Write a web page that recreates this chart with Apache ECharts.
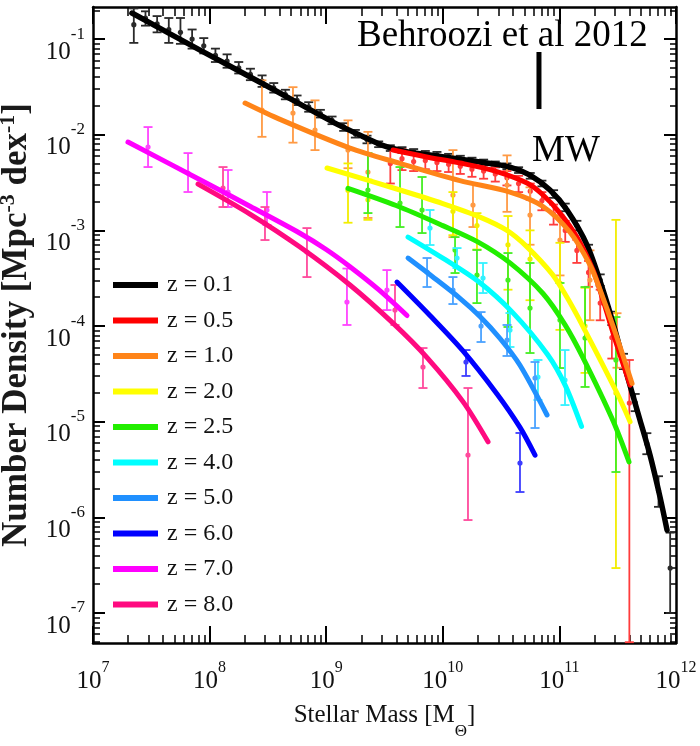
<!DOCTYPE html>
<html>
<head>
<meta charset="utf-8">
<script src="https://cdn.jsdelivr.net/npm/echarts@6/dist/echarts.min.js"></script>
<style>html,body{margin:0;padding:0;background:#fff}#chart{width:700px;height:746px}</style>
</head>
<body>
<div id="chart"></div>
<script>
// ---------- labels / ticks ----------
const zLabels = ['z = 0.1','z = 0.5','z = 1.0','z = 2.0','z = 2.5','z = 4.0','z = 5.0','z = 6.0','z = 7.0','z = 8.0'];
const xMajorTicks = [1e7, 1e8, 1e9, 1e10, 1e11, 1e12];
const yMajorTicks = [1e-7, 1e-6, 1e-5, 1e-4, 1e-3, 1e-2, 1e-1];
const xRange = [1e7, 1e12];
const yRange = [4.86e-8, 0.2163];
const xTitle = 'Stellar Mass [M{sub|Θ}]';
const yTitle = 'Number Density [Mpc{sup|-3} dex{sup|-1}]';
const annotationText = 'Behroozi et al 2012';
const mwText = 'MW';
// MW marker (mass, and the two ends of the marker in number density)
const mwMass = [6.68e10, 6.68e10];
const mwMark = [0.0731, 0.01854];

// ---------- data (log10 values) ----------
// z = 0.1
const z01_lineLogM = [7.334, 7.918, 8.492, 9.058, 9.3, 9.504, 9.7, 9.890, 10.319, 10.576, 10.748, 10.919, 11.065, 11.237, 11.374, 11.477, 11.580, 11.691, 11.777, 11.863, 11.923];
const z01_lineLogN = [-0.728, -1.115, -1.491, -1.868, -2.01, -2.12, -2.18, -2.213, -2.286, -2.338, -2.422, -2.578, -2.787, -3.153, -3.624, -4.042, -4.512, -4.982, -5.348, -5.787, -6.132];
const z01_ptLogM = [7.35,7.45,7.55,7.65,7.75,7.85,7.95,8.05,8.15,8.25,8.35,8.45,8.55,8.65,8.75,8.85,8.95,9.05,9.15,9.25,9.35,9.45,9.55,9.65,9.75,9.85,9.95,10.05,10.15,10.25,10.35,10.45,10.55,10.65,10.75,10.85,10.95,11.05,11.15,11.25,11.35,11.45,11.55,11.65,11.75,11.85,11.95];
const z01_ptLogN = [-0.85,-0.78,-0.84,-0.90,-0.93,-1.00,-1.07,-1.17,-1.23,-1.30,-1.37,-1.44,-1.51,-1.58,-1.64,-1.71,-1.78,-1.85,-1.92,-1.99,-2.05,-2.10,-2.14,-2.16,-2.18,-2.20,-2.21,-2.23,-2.25,-2.27,-2.29,-2.31,-2.33,-2.37,-2.43,-2.51,-2.62,-2.76,-2.95,-3.20,-3.52,-3.92,-4.37,-4.80,-5.23,-5.72,-6.53];
const z01_ptErrUp = [0.17,0.07,0.08,0.12,0.15,0.10,0.08,0.07,0.07,0.06,0.06,0.06,0.05,0.05,0.05,0.05,0.04,0.04,0.04,0.04,0.04,0.03,0.03,0.03,0.03,0.03,0.03,0.03,0.03,0.03,0.03,0.03,0.03,0.03,0.03,0.03,0.04,0.04,0.05,0.05,0.06,0.07,0.08,0.09,0.11,0.15,0.37];
const z01_ptErrDn = [0.19,0.08,0.09,0.14,0.12,0.10,0.08,0.07,0.07,0.06,0.06,0.06,0.05,0.05,0.05,0.05,0.04,0.04,0.04,0.04,0.04,0.03,0.03,0.03,0.03,0.03,0.03,0.03,0.03,0.03,0.03,0.03,0.03,0.03,0.03,0.03,0.04,0.04,0.05,0.05,0.06,0.07,0.08,0.09,0.11,0.17,0.47];
// z = 0.5
const z05_lineLogM = [9.573, 9.85, 10.147, 10.45, 10.722, 10.86, 11.005, 11.15, 11.288, 11.374, 11.48, 11.606];
const z05_lineLogN = [-2.160, -2.23, -2.296, -2.38, -2.505, -2.63, -2.819, -3.07, -3.415, -3.728, -4.15, -4.617];
const z05_ptLogM = [9.55,9.65,9.75,9.85,9.95,10.05,10.15,10.25,10.35,10.45,10.55,10.65,10.75,10.85,10.95,11.05,11.15,11.25,11.35,11.45,11.60];
const z05_ptLogN = [-2.30,-2.25,-2.28,-2.27,-2.29,-2.31,-2.33,-2.36,-2.38,-2.41,-2.45,-2.51,-2.59,-2.69,-2.83,-3.00,-3.21,-3.44,-3.76,-4.12,-4.805];
const z05_ptErrUp = [0.16,0.10,0.09,0.08,0.08,0.07,0.07,0.07,0.07,0.07,0.07,0.08,0.08,0.09,0.10,0.10,0.11,0.12,0.14,0.16,0.45];
const z05_ptErrDn = [0.21,0.12,0.10,0.09,0.09,0.08,0.08,0.08,0.08,0.08,0.08,0.09,0.09,0.10,0.11,0.12,0.13,0.15,0.18,0.22,2.50];
// z = 1.0
const z10_lineLogM = [8.304, 8.604, 9.204, 9.633, 10.147, 10.576, 10.859, 11.091, 11.262, 11.348, 11.477, 11.623];
const z10_lineLogN = [-1.669, -1.840, -2.140, -2.300, -2.480, -2.600, -2.750, -3.020, -3.360, -3.620, -4.060, -4.600];
const z10_ptLogM = [8.449, 8.715, 8.904, 9.187, 9.358, 10.087, 10.259, 10.551, 10.748, 11.005, 11.262, 11.494];
const z10_ptLogN = [-1.742, -1.773, -1.951, -2.160, -2.390, -2.631, -2.735, -2.526, -2.840, -3.101, -3.519, -4.146];
const z10_ptErrUp = [0.31, 0.27, 0.31, 0.31, 0.42, 0.47, 0.23, 0.31, 0.29, 0.26, 0.31, 0.28];
const z10_ptErrDn = [0.28, 0.31, 0.21, 0.19, 0.48, 0.44, 0.23, 0.28, 0.31, 0.37, 0.42, 0.29];
// z = 2.0
const z20_lineLogM = [9.007, 9.633, 10.000, 10.319, 10.55, 10.722, 10.94, 11.065, 11.2, 11.494, 11.606];
const z20_lineLogN = [-2.348, -2.578, -2.720, -2.861, -3.000, -3.172, -3.460, -3.700, -4.000, -4.700, -5.000];
const z20_ptLogM = [9.187, 9.358, 10.087, 10.293, 10.559, 10.748, 11.005, 11.220, 11.485];
const z20_ptLogN = [-2.58, -2.68, -2.80, -2.95, -3.15, -3.30, -3.55, -4.00, -4.70];
const z20_ptErrUp = [0.28, 0.21, 0.20, 0.13, 0.30, 0.30, 0.42, 0.40, 1.81];
const z20_ptErrDn = [0.34, 0.21, 0.25, 0.25, 0.47, 0.43, 0.49, 0.49, 1.83];
// z = 2.5
const z25_lineLogM = [9.187, 9.6, 10.0, 10.3, 10.576, 10.859, 11.05, 11.202, 11.46, 11.597];
const z25_lineLogN = [-2.56, -2.74, -2.95, -3.12, -3.34, -3.66, -3.99, -4.33, -4.99, -5.42];
const z25_ptLogM = [9.358, 9.633, 9.822, 10.105, 10.293, 10.559, 10.748, 11.005, 11.220, 11.485];
const z25_ptLogN = [-2.578, -2.714, -2.787, -3.205, -3.467, -3.519, -3.812, -3.937, -4.125, -4.355];
const z25_ptErrUp = [0.386, 0.376, 0.345, 0.135, 0.262, 0.282, 0.471, 0.387, 0.533, 0.449];
const z25_ptErrDn = [0.241, 0.251, 0.241, 0.241, 0.293, 0.491, 0.470, 0.502, 0.512, 1.171];
// z = 4.0
const z40_lineLogM = [9.702, 10.0, 10.3, 10.6, 10.9, 11.05, 11.19];
const z40_lineLogN = [-3.07, -3.29, -3.53, -3.86, -4.30, -4.62, -5.05];
const z40_ptLogM = [9.890, 10.122, 10.345, 10.576, 10.816, 11.048];
const z40_ptLogN = [-2.976, -3.289, -3.498, -4.042, -4.533, -4.564];
const z40_ptErrUp = [0.189, 0.104, 0.157, 0.178, 0.178, 0.313];
const z40_ptErrDn = [0.177, 0.105, 0.157, 0.177, 0.240, 0.262];
// z = 5.0
const z50_lineLogM = [9.702, 9.907, 10.147, 10.319, 10.491, 10.662, 10.894];
const z50_lineLogN = [-3.29, -3.48, -3.71, -3.90, -4.13, -4.41, -4.93];
const z50_ptLogM = [9.865, 10.087, 10.328, 10.551, 10.791];
const z50_ptLogN = [-3.435, -3.624, -4.000, -4.146, -4.543];
const z50_ptErrUp = [0.146, 0.136, 0.146, 0.157, 0.167];
const z50_ptErrDn = [0.157, 0.146, 0.167, 0.167, 0.523];
// z = 6.0
const z60_lineLogM = [9.607, 9.890, 10.173, 10.465, 10.662, 10.791];
const z60_lineLogN = [-3.54, -3.89, -4.26, -4.71, -5.06, -5.35];
const z60_ptLogM = [10.199, 10.662];
const z60_ptLogN = [-4.376, -5.432];
const z60_ptErrUp = [0.125, 0.314];
const z60_ptErrDn = [0.146, 0.303];
// z = 7.0
const z70_lineLogM = [7.300, 7.918, 8.350, 8.775, 9.0, 9.204, 9.45, 9.693];
const z70_lineLogN = [-2.077, -2.47, -2.75, -3.03, -3.20, -3.38, -3.62, -3.89];
const z70_ptLogM = [7.472, 7.815, 8.158, 8.492, 9.178, 9.521];
const z70_ptLogN = [-2.129, -2.401, -2.599, -2.787, -3.749, -3.624];
const z70_ptErrUp = [0.209, 0.209, 0.230, 0.188, 0.350, 0.209];
const z70_ptErrDn = [0.209, 0.198, 0.157, 0.157, 0.240, 0.209];
// z = 8.0
const z80_lineLogM = [7.901, 8.346, 8.775, 9.204, 9.573, 9.865, 10.173, 10.388];
const z80_lineLogN = [-2.516, -2.829, -3.174, -3.571, -3.97, -4.33, -4.79, -5.21];
const z80_ptLogM = [8.115, 8.475, 8.835, 9.590, 9.830, 10.216];
const z80_ptLogN = [-2.557, -2.923, -3.226, -3.833, -4.428, -5.348];
const z80_ptErrUp = [0.219, 0.167, 0.250, 0.262, 0.198, 0.700];
const z80_ptErrDn = [0.199, 0.178, 0.262, 0.156, 0.220, 0.680];

// ---------- styles ----------
const lineColors = ['#000000','#ff0000','#ff8418','#ffff00','#22ee00','#00ffff','#2090ff','#0000ff','#ff00ff','#ff0a80'];
const barColors  = ['#2a2a2a','#ff3c3c','#ff9a44','#f2ee00','#44ee22','#33f2ff','#4aa2ff','#3c3cff','#ff44ff','#ff4a9c'];
const serif = '"Liberation Serif","Times New Roman",Times,serif';

const lineSets = [
  [z01_lineLogM, z01_lineLogN], [z05_lineLogM, z05_lineLogN], [z10_lineLogM, z10_lineLogN],
  [z20_lineLogM, z20_lineLogN], [z25_lineLogM, z25_lineLogN], [z40_lineLogM, z40_lineLogN],
  [z50_lineLogM, z50_lineLogN], [z60_lineLogM, z60_lineLogN], [z70_lineLogM, z70_lineLogN],
  [z80_lineLogM, z80_lineLogN]
];
const ptSets = [
  [z01_ptLogM, z01_ptLogN, z01_ptErrUp, z01_ptErrDn], [z05_ptLogM, z05_ptLogN, z05_ptErrUp, z05_ptErrDn],
  [z10_ptLogM, z10_ptLogN, z10_ptErrUp, z10_ptErrDn], [z20_ptLogM, z20_ptLogN, z20_ptErrUp, z20_ptErrDn],
  [z25_ptLogM, z25_ptLogN, z25_ptErrUp, z25_ptErrDn], [z40_ptLogM, z40_ptLogN, z40_ptErrUp, z40_ptErrDn],
  [z50_ptLogM, z50_ptLogN, z50_ptErrUp, z50_ptErrDn], [z60_ptLogM, z60_ptLogN, z60_ptErrUp, z60_ptErrDn],
  [z70_ptLogM, z70_ptLogN, z70_ptErrUp, z70_ptErrDn], [z80_ptLogM, z80_ptLogN, z80_ptErrUp, z80_ptErrDn]
];

const p10 = v => Math.pow(10, v);

function minorTicks(lo, hi) {
  const out = [];
  for (let e = Math.floor(Math.log10(lo)) ; e <= Math.ceil(Math.log10(hi)); e++) {
    for (let k = 2; k <= 9; k++) {
      const v = k * Math.pow(10, e);
      if (v > lo && v < hi) out.push(v);
    }
  }
  return out;
}
const xMinorTicks = minorTicks(xRange[0], xRange[1]);
const yMinorTicks = minorTicks(yRange[0], yRange[1]);

function powLabel(v) {
  const e = Math.round(Math.log10(v));
  return '{b|10}{s|' + e + '}';
}

function renderErrorBar(params, api) {
  const m = api.value(0), n = api.value(1), lo = api.value(2), hi = api.value(3);
  const p = api.coord([m, n]);
  const pl = api.coord([m, lo]);
  const ph = api.coord([m, hi]);
  const color = api.visual('color');
  const cap = 4.5;
  return {
    type: 'group',
    children: [
      { type: 'line', shape: { x1: p[0], y1: pl[1], x2: p[0], y2: ph[1] }, style: { stroke: color, lineWidth: 1.8 } },
      { type: 'line', shape: { x1: p[0] - cap, y1: pl[1], x2: p[0] + cap, y2: pl[1] }, style: { stroke: color, lineWidth: 1.8 } },
      { type: 'line', shape: { x1: p[0] - cap, y1: ph[1], x2: p[0] + cap, y2: ph[1] }, style: { stroke: color, lineWidth: 1.8 } },
      { type: 'circle', shape: { cx: p[0], cy: p[1], r: 2.6 }, style: { fill: color } }
    ]
  };
}

const series = [];
zLabels.forEach((name, i) => {
  const [pm, pn, pu, pd] = ptSets[i];
  series.push({
    type: 'custom',
    name: name + ' data',
    renderItem: renderErrorBar,
    encode: { x: 0, y: 1 },
    data: pm.map((m, j) => [p10(m), p10(pn[j]), p10(pn[j] - pd[j]), p10(pn[j] + pu[j])]),
    itemStyle: { color: barColors[i] },
    silent: true
  });
  const [lm, ln] = lineSets[i];
  series.push({
    type: 'line',
    name: name,
    color: lineColors[i],
    data: lm.map((m, j) => [p10(m), p10(ln[j])]),
    showSymbol: false,
    symbol: 'none',
    smooth: 0.3,
    lineStyle: { width: i === 0 ? 5.5 : 5, color: lineColors[i], cap: 'round', join: 'round' },
    itemStyle: { color: lineColors[i] },
    silent: true
  });
});
series.push({
  type: 'line',
  name: 'MW marker',
  data: [[mwMass[0], mwMark[0]], [mwMass[1], mwMark[1]]],
  symbol: 'none',
  lineStyle: { color: '#000', width: 5 },
  silent: true
});

const axisLineStyle = { color: '#000', width: 2.5 };
const majorTickStyle = { color: '#000', width: 2 };
const minorTickStyle = { color: '#000', width: 1.5 };

const xBase = { type: 'log', min: xRange[0], max: xRange[1], splitLine: { show: false }, minorTick: { show: false } };
const yBase = { type: 'log', min: yRange[0], max: yRange[1], splitLine: { show: false }, minorTick: { show: false } };

const option = {
  animation: false,
  backgroundColor: '#ffffff',
  grid: { left: 93, right: 24, top: 7, bottom: 103, containLabel: false, outerBoundsMode: 'none' },
  legend: {
    data: zLabels,
    orient: 'vertical',
    left: 113,
    top: 273,
    padding: 0,
    itemWidth: 45,
    itemHeight: 6,
    itemGap: 11.5,
    icon: 'rect',
    selectedMode: false,
    textStyle: { fontFamily: serif, fontSize: 24, lineHeight: 24, color: '#111', padding: [0, 0, 0, 4] }
  },
  xAxis: [
    Object.assign({}, xBase, {
      position: 'bottom',
      axisLine: { show: true, lineStyle: axisLineStyle },
      axisTick: { show: true, inside: true, length: 17, customValues: xMajorTicks, lineStyle: majorTickStyle },
      axisLabel: {
        show: true, customValues: xMajorTicks, margin: 17, formatter: powLabel,
        rich: {
          b: { fontFamily: serif, fontSize: 25, color: '#111' },
          s: { fontFamily: serif, fontSize: 16, color: '#111', padding: [0, 0, 26, 0] }
        }
      },
      name: xTitle,
      nameLocation: 'middle',
      nameGap: 48,
      nameTextStyle: {
        fontFamily: serif, fontSize: 25, color: '#111',
        rich: { sub: { fontFamily: serif, fontSize: 17, color: '#111', padding: [32, 0, 0, 0] } }
      }
    }),
    Object.assign({}, xBase, {
      position: 'bottom',
      axisLine: { show: false },
      axisTick: { show: true, inside: true, length: 8, customValues: xMinorTicks, lineStyle: minorTickStyle },
      axisLabel: { show: false }
    }),
    Object.assign({}, xBase, {
      position: 'top',
      axisLine: { show: true, lineStyle: axisLineStyle },
      axisTick: { show: true, inside: true, length: 17, customValues: xMajorTicks, lineStyle: majorTickStyle },
      axisLabel: { show: false }
    }),
    Object.assign({}, xBase, {
      position: 'top',
      axisLine: { show: false },
      axisTick: { show: true, inside: true, length: 9, customValues: xMinorTicks, lineStyle: minorTickStyle },
      axisLabel: { show: false }
    })
  ],
  yAxis: [
    Object.assign({}, yBase, {
      position: 'left',
      axisLine: { show: true, lineStyle: axisLineStyle },
      axisTick: { show: true, inside: true, length: 12, customValues: yMajorTicks, lineStyle: majorTickStyle },
      axisLabel: {
        show: true, customValues: yMajorTicks, margin: 8, formatter: powLabel,
        rich: {
          b: { fontFamily: serif, fontSize: 25, color: '#111', padding: [26, 0, 0, 0] },
          s: { fontFamily: serif, fontSize: 17, color: '#111', padding: [0, 0, 10, 0] }
        }
      },
      name: yTitle,
      nameLocation: 'middle',
      nameRotate: 90,
      nameGap: 42,
      nameTextStyle: {
        fontFamily: serif, fontSize: 35, fontWeight: 'bold', color: '#1a1a1a',
        rich: { sup: { fontFamily: serif, fontSize: 22, fontWeight: 'bold', color: '#1a1a1a', padding: [0, 0, 18, 0] } }
      }
    }),
    Object.assign({}, yBase, {
      position: 'left',
      axisLine: { show: false },
      axisTick: { show: true, inside: true, length: 7, customValues: yMinorTicks, lineStyle: minorTickStyle },
      axisLabel: { show: false }
    }),
    Object.assign({}, yBase, {
      position: 'right',
      axisLine: { show: true, lineStyle: axisLineStyle },
      axisTick: { show: true, inside: true, length: 12, customValues: yMajorTicks, lineStyle: majorTickStyle },
      axisLabel: { show: false }
    }),
    Object.assign({}, yBase, {
      position: 'right',
      axisLine: { show: false },
      axisTick: { show: true, inside: true, length: 6, customValues: yMinorTicks, lineStyle: minorTickStyle },
      axisLabel: { show: false }
    })
  ],
  graphic: [
    {
      type: 'text', x: 357, y: 36.5, z: 100,
      style: { text: annotationText, fontFamily: serif, fontSize: 37, fill: '#000', align: 'left', verticalAlign: 'middle' }
    },
    {
      type: 'text', x: 532, y: 151, z: 100,
      style: { text: mwText, fontFamily: serif, fontSize: 37, fill: '#000', align: 'left', verticalAlign: 'middle' }
    }
  ],
  series: series
};

const chart = echarts.init(document.getElementById('chart'), null, { renderer: 'canvas' });
chart.setOption(option);
</script>
</body>
</html>
